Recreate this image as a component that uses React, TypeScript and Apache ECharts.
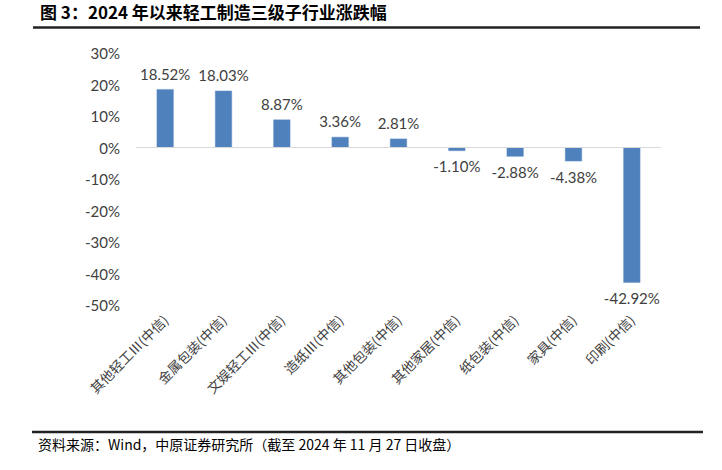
import React, { useEffect, useRef } from "react";
import * as echarts from "echarts";

const titleText = "图 3：2024 年以来轻工制造三级子行业涨跌幅";
const sourceText = "资料来源：Wind，中原证券研究所（截至 2024 年 11 月 27 日收盘）";
const categories = [
  "其他轻工Ⅲ(中信)",
  "金属包装(中信)",
  "文娱轻工Ⅲ(中信)",
  "造纸Ⅲ(中信)",
  "其他包装(中信)",
  "其他家居(中信)",
  "纸包装(中信)",
  "家具(中信)",
  "印刷(中信)",
];
const changes = [18.52, 18.03, 8.87, 3.36, 2.81, -1.1, -2.88, -4.38, -42.92];
const yMin = -50;
const yMax = 30;
const yStep = 10;

export default function App() {
  const ref = useRef<HTMLDivElement>(null);
  useEffect(() => {
    if (!ref.current) return;
    const chart = echarts.init(ref.current, null, { renderer: "svg" });
    const numFont = "Lato, 'Noto Sans', sans-serif";
    const cjk = "'Noto Sans CJK SC', sans-serif";
    chart.setOption({
      animation: false,
      backgroundColor: "#ffffff",
      grid: { left: 136, right: 61, top: 53, bottom: 165 },
      xAxis: {
        type: "category",
        data: categories,
        position: "bottom",
        axisLine: { show: false, onZero: false },
        axisTick: { show: false },
        axisLabel: {
          rotate: 45,
          interval: 0,
          margin: 12,
          fontSize: 13.5,
          color: "#404040",
          fontFamily: cjk,
        },
      },
      yAxis: {
        type: "value",
        min: yMin,
        max: yMax,
        interval: yStep,
        axisLine: { show: false },
        axisTick: { show: false },
        splitLine: { show: false },
        axisLabel: {
          formatter: "{value}%",
          fontSize: 15,
          margin: 16,
          color: "#404040",
          fontFamily: numFont,
        },
      },
      series: [
        {
          type: "bar",
          barWidth: 17,
          data: changes.map((v) => ({
            value: v,
            label: { position: v < 0 ? "bottom" : "top" },
          })),
          itemStyle: { color: "#4F81BD", borderColor: "#6a95c8", borderWidth: 0.5 },
          label: {
            show: true,
            distance: 8,
            fontSize: 15,
            color: "#404040",
            fontFamily: numFont,
            formatter: (p: any) => Number(p.value).toFixed(2) + "%",
          },
          markLine: {
            silent: true,
            symbol: "none",
            label: { show: false },
            lineStyle: { color: "#d9d9d9", width: 1, type: "solid" },
            data: [{ yAxis: 0 }],
          },
        },
      ],
      graphic: [
        {
          type: "text",
          left: 40,
          top: 3,
          style: {
            text: titleText,
            font: "bold 17px 'Noto Sans CJK SC', sans-serif",
            fill: "#000",
          },
        },
        {
          type: "line",
          shape: { x1: 33, y1: 27.5, x2: 700, y2: 27.5 },
          style: { stroke: "#222", lineWidth: 2.5 },
        },
        {
          type: "line",
          shape: { x1: 32, y1: 432, x2: 703, y2: 432 },
          style: { stroke: "#222", lineWidth: 2.5 },
        },
        {
          type: "text",
          left: 38,
          top: 437,
          style: {
            text: sourceText,
            font: "14px 'Noto Sans CJK SC', sans-serif",
            fill: "#000",
          },
        },
      ],
    });
    return () => chart.dispose();
  }, []);
  return (
    <div
      ref={ref}
      style={{ position: "fixed", left: 0, top: 0, width: 722, height: 470 }}
    />
  );
}
